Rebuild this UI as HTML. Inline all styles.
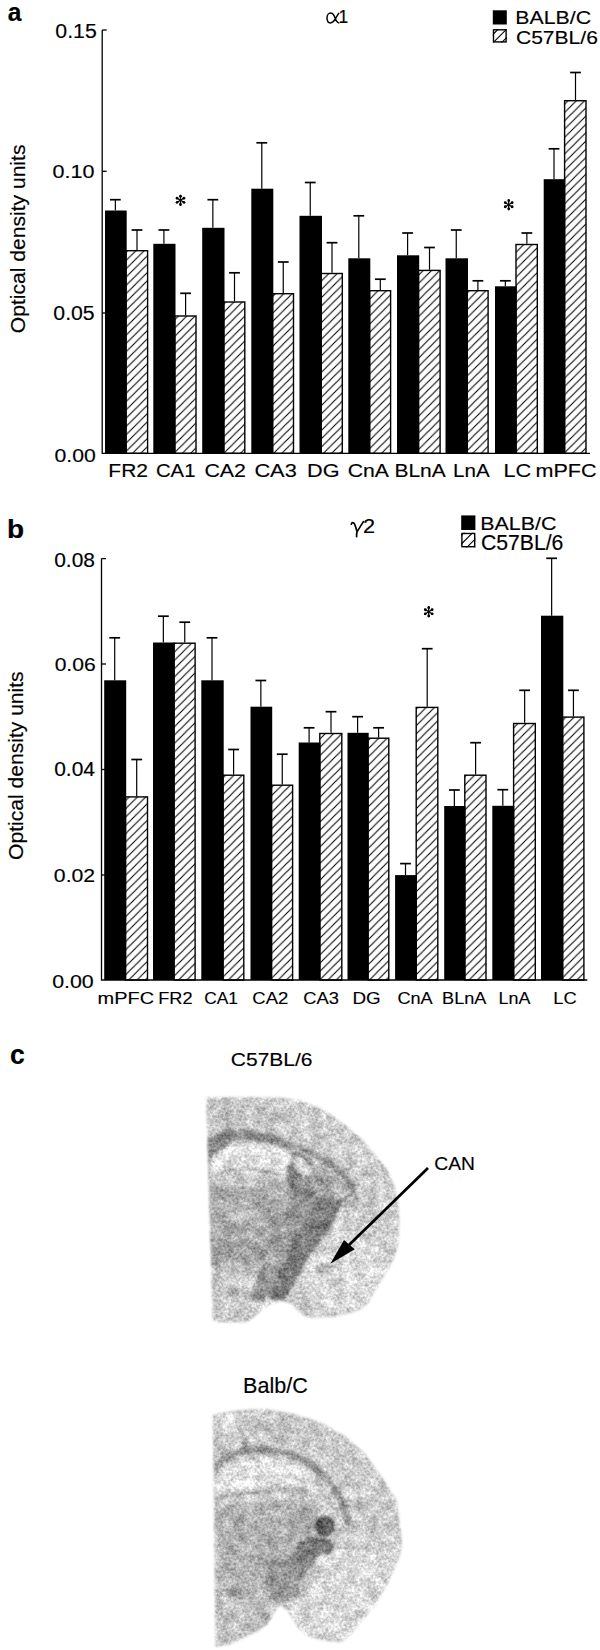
<!DOCTYPE html><html><head><meta charset="utf-8"><style>html,body{margin:0;padding:0;background:#fff}svg{display:block}</style></head><body>
<svg width="600" height="1650" viewBox="0 0 600 1650">
<defs><pattern id="h" patternUnits="userSpaceOnUse" width="8.3" height="8.3" patternTransform="translate(4.8,0)"><path d="M-1,9.3 L9.3,-1 M-1,1 L1,-1 M7.3,9.3 L9.3,7.3" stroke="#000" stroke-width="1.1"/></pattern></defs>
<rect width="600" height="1650" fill="#fff"/>
<g fill="#000" stroke="#000" stroke-width="0">
<path d="M102.2,30 V453.3 H590" fill="none" stroke="#000" stroke-width="1.3"/><path d="M102.2,30 H106.7" stroke="#000" stroke-width="1.3"/><path d="M102.2,171.3 H106.7" stroke="#000" stroke-width="1.3"/><path d="M102.2,313 H106.7" stroke="#000" stroke-width="1.3"/><path d="M115.35,210.5 V199.7" stroke="#000" stroke-width="1.2" fill="none"/><path d="M109.95,199.7 H120.75" stroke="#000" stroke-width="1.7" fill="none"/><path d="M137.00,250 V230" stroke="#000" stroke-width="1.2" fill="none"/><path d="M131.60,230 H142.40" stroke="#000" stroke-width="1.7" fill="none"/><rect x="126.00" y="250.70" width="21.60" height="202.60" fill="url(#h)" stroke="#000" stroke-width="1.4"/><rect x="105" y="210.5" width="21.70" height="242.80" fill="#000"/><path d="M163.90,243.8 V230" stroke="#000" stroke-width="1.2" fill="none"/><path d="M158.50,230 H169.30" stroke="#000" stroke-width="1.7" fill="none"/><path d="M185.60,315.3 V293.3" stroke="#000" stroke-width="1.2" fill="none"/><path d="M180.20,293.3 H191.00" stroke="#000" stroke-width="1.7" fill="none"/><rect x="174.80" y="316.00" width="21.20" height="137.30" fill="url(#h)" stroke="#000" stroke-width="1.4"/><rect x="153.3" y="243.8" width="22.20" height="209.50" fill="#000"/><path d="M212.85,227.8 V199.7" stroke="#000" stroke-width="1.2" fill="none"/><path d="M207.45,199.7 H218.25" stroke="#000" stroke-width="1.7" fill="none"/><path d="M234.50,301.3 V272.8" stroke="#000" stroke-width="1.2" fill="none"/><path d="M229.10,272.8 H239.90" stroke="#000" stroke-width="1.7" fill="none"/><rect x="223.80" y="302.00" width="21.00" height="151.30" fill="url(#h)" stroke="#000" stroke-width="1.4"/><rect x="202.2" y="227.8" width="22.30" height="225.50" fill="#000"/><path d="M261.80,188.7 V142.8" stroke="#000" stroke-width="1.2" fill="none"/><path d="M256.40,142.8 H267.20" stroke="#000" stroke-width="1.7" fill="none"/><path d="M283.25,293 V262" stroke="#000" stroke-width="1.2" fill="none"/><path d="M277.85,262 H288.65" stroke="#000" stroke-width="1.7" fill="none"/><rect x="272.60" y="293.70" width="20.90" height="159.60" fill="url(#h)" stroke="#000" stroke-width="1.4"/><rect x="251.3" y="188.7" width="22.00" height="264.60" fill="#000"/><path d="M310.25,215.8 V182.5" stroke="#000" stroke-width="1.2" fill="none"/><path d="M304.85,182.5 H315.65" stroke="#000" stroke-width="1.7" fill="none"/><path d="M332.00,272.8 V242.7" stroke="#000" stroke-width="1.2" fill="none"/><path d="M326.60,242.7 H337.40" stroke="#000" stroke-width="1.7" fill="none"/><rect x="321.30" y="273.50" width="21.00" height="179.80" fill="url(#h)" stroke="#000" stroke-width="1.4"/><rect x="299.5" y="215.8" width="22.50" height="237.50" fill="#000"/><path d="M358.80,258.3 V215.8" stroke="#000" stroke-width="1.2" fill="none"/><path d="M353.40,215.8 H364.20" stroke="#000" stroke-width="1.7" fill="none"/><path d="M380.30,290 V279.2" stroke="#000" stroke-width="1.2" fill="none"/><path d="M374.90,279.2 H385.70" stroke="#000" stroke-width="1.7" fill="none"/><rect x="369.60" y="290.70" width="21.00" height="162.60" fill="url(#h)" stroke="#000" stroke-width="1.4"/><rect x="348.3" y="258.3" width="22.00" height="195.00" fill="#000"/><path d="M407.60,255.3 V233" stroke="#000" stroke-width="1.2" fill="none"/><path d="M402.20,233 H413.00" stroke="#000" stroke-width="1.7" fill="none"/><path d="M429.50,269.7 V247.5" stroke="#000" stroke-width="1.2" fill="none"/><path d="M424.10,247.5 H434.90" stroke="#000" stroke-width="1.7" fill="none"/><rect x="418.50" y="270.40" width="21.60" height="182.90" fill="url(#h)" stroke="#000" stroke-width="1.4"/><rect x="397" y="255.3" width="22.20" height="198.00" fill="#000"/><path d="M456.25,258.3 V230" stroke="#000" stroke-width="1.2" fill="none"/><path d="M450.85,230 H461.65" stroke="#000" stroke-width="1.7" fill="none"/><path d="M477.90,290 V280.8" stroke="#000" stroke-width="1.2" fill="none"/><path d="M472.50,280.8 H483.30" stroke="#000" stroke-width="1.7" fill="none"/><rect x="467.30" y="290.70" width="20.80" height="162.60" fill="url(#h)" stroke="#000" stroke-width="1.4"/><rect x="445.5" y="258.3" width="22.50" height="195.00" fill="#000"/><path d="M505.35,286.3 V280.8" stroke="#000" stroke-width="1.2" fill="none"/><path d="M499.95,280.8 H510.75" stroke="#000" stroke-width="1.7" fill="none"/><path d="M526.85,243.8 V233" stroke="#000" stroke-width="1.2" fill="none"/><path d="M521.45,233 H532.25" stroke="#000" stroke-width="1.7" fill="none"/><rect x="516.00" y="244.50" width="21.30" height="208.80" fill="url(#h)" stroke="#000" stroke-width="1.4"/><rect x="495" y="286.3" width="21.70" height="167.00" fill="#000"/><path d="M554.00,179.2 V148.8" stroke="#000" stroke-width="1.2" fill="none"/><path d="M548.60,148.8 H559.40" stroke="#000" stroke-width="1.7" fill="none"/><path d="M575.50,100 V72.5" stroke="#000" stroke-width="1.2" fill="none"/><path d="M570.10,72.5 H580.90" stroke="#000" stroke-width="1.7" fill="none"/><rect x="564.60" y="100.70" width="21.40" height="352.60" fill="url(#h)" stroke="#000" stroke-width="1.4"/><rect x="543.7" y="179.2" width="21.60" height="274.10" fill="#000"/>
<path d="M101.5,558.6 V980 H587.3" fill="none" stroke="#000" stroke-width="1.3"/><path d="M101.5,558.6 H106.0" stroke="#000" stroke-width="1.3"/><path d="M101.5,664 H106.0" stroke="#000" stroke-width="1.3"/><path d="M101.5,769.5 H106.0" stroke="#000" stroke-width="1.3"/><path d="M101.5,875 H106.0" stroke="#000" stroke-width="1.3"/><path d="M114.70,680.3 V637.8" stroke="#000" stroke-width="1.2" fill="none"/><path d="M109.30,637.8 H120.10" stroke="#000" stroke-width="1.7" fill="none"/><path d="M136.70,796.2 V759.5" stroke="#000" stroke-width="1.2" fill="none"/><path d="M131.30,759.5 H142.10" stroke="#000" stroke-width="1.7" fill="none"/><rect x="125.50" y="796.90" width="22.00" height="183.10" fill="url(#h)" stroke="#000" stroke-width="1.4"/><rect x="104.2" y="680.3" width="22.00" height="299.70" fill="#000"/><path d="M163.35,642.5 V616.2" stroke="#000" stroke-width="1.2" fill="none"/><path d="M157.95,616.2 H168.75" stroke="#000" stroke-width="1.7" fill="none"/><path d="M184.75,642.5 V622.2" stroke="#000" stroke-width="1.2" fill="none"/><path d="M179.35,622.2 H190.15" stroke="#000" stroke-width="1.7" fill="none"/><rect x="174.00" y="643.20" width="21.10" height="336.80" fill="url(#h)" stroke="#000" stroke-width="1.4"/><rect x="153" y="642.5" width="21.70" height="337.50" fill="#000"/><path d="M212.00,680.3 V637.8" stroke="#000" stroke-width="1.2" fill="none"/><path d="M206.60,637.8 H217.40" stroke="#000" stroke-width="1.7" fill="none"/><path d="M233.60,774.5 V749.5" stroke="#000" stroke-width="1.2" fill="none"/><path d="M228.20,749.5 H239.00" stroke="#000" stroke-width="1.7" fill="none"/><rect x="223.00" y="775.20" width="20.80" height="204.80" fill="url(#h)" stroke="#000" stroke-width="1.4"/><rect x="201.3" y="680.3" width="22.40" height="299.70" fill="#000"/><path d="M260.85,706.7 V680.5" stroke="#000" stroke-width="1.2" fill="none"/><path d="M255.45,680.5 H266.25" stroke="#000" stroke-width="1.7" fill="none"/><path d="M282.25,784.5 V754.2" stroke="#000" stroke-width="1.2" fill="none"/><path d="M276.85,754.2 H287.65" stroke="#000" stroke-width="1.7" fill="none"/><rect x="271.50" y="785.20" width="21.10" height="194.80" fill="url(#h)" stroke="#000" stroke-width="1.4"/><rect x="250.5" y="706.7" width="21.70" height="273.30" fill="#000"/><path d="M309.10,742.5 V727.8" stroke="#000" stroke-width="1.2" fill="none"/><path d="M303.70,727.8 H314.50" stroke="#000" stroke-width="1.7" fill="none"/><path d="M331.00,732.8 V711.7" stroke="#000" stroke-width="1.2" fill="none"/><path d="M325.60,711.7 H336.40" stroke="#000" stroke-width="1.7" fill="none"/><rect x="319.80" y="733.50" width="22.00" height="246.50" fill="url(#h)" stroke="#000" stroke-width="1.4"/><rect x="298.7" y="742.5" width="21.80" height="237.50" fill="#000"/><path d="M357.60,732.8 V716.7" stroke="#000" stroke-width="1.2" fill="none"/><path d="M352.20,716.7 H363.00" stroke="#000" stroke-width="1.7" fill="none"/><path d="M378.60,737.5 V727.8" stroke="#000" stroke-width="1.2" fill="none"/><path d="M373.20,727.8 H384.00" stroke="#000" stroke-width="1.7" fill="none"/><rect x="368.00" y="738.20" width="20.80" height="241.80" fill="url(#h)" stroke="#000" stroke-width="1.4"/><rect x="347.5" y="732.8" width="21.20" height="247.20" fill="#000"/><path d="M405.50,875.1 V863.6" stroke="#000" stroke-width="1.2" fill="none"/><path d="M400.10,863.6 H410.90" stroke="#000" stroke-width="1.7" fill="none"/><path d="M427.20,706.7 V648.7" stroke="#000" stroke-width="1.2" fill="none"/><path d="M421.80,648.7 H432.60" stroke="#000" stroke-width="1.7" fill="none"/><rect x="416.20" y="707.40" width="21.60" height="272.60" fill="url(#h)" stroke="#000" stroke-width="1.4"/><rect x="395.1" y="875.1" width="21.80" height="104.90" fill="#000"/><path d="M454.35,806 V790" stroke="#000" stroke-width="1.2" fill="none"/><path d="M448.95,790 H459.75" stroke="#000" stroke-width="1.7" fill="none"/><path d="M475.60,774.5 V742.7" stroke="#000" stroke-width="1.2" fill="none"/><path d="M470.20,742.7 H481.00" stroke="#000" stroke-width="1.7" fill="none"/><rect x="464.80" y="775.20" width="21.20" height="204.80" fill="url(#h)" stroke="#000" stroke-width="1.4"/><rect x="444.2" y="806" width="21.30" height="174.00" fill="#000"/><path d="M502.80,805.8 V789.7" stroke="#000" stroke-width="1.2" fill="none"/><path d="M497.40,789.7 H508.20" stroke="#000" stroke-width="1.7" fill="none"/><path d="M524.65,722.8 V690.3" stroke="#000" stroke-width="1.2" fill="none"/><path d="M519.25,690.3 H530.05" stroke="#000" stroke-width="1.7" fill="none"/><rect x="513.60" y="723.50" width="21.70" height="256.50" fill="url(#h)" stroke="#000" stroke-width="1.4"/><rect x="492.3" y="805.8" width="22.00" height="174.20" fill="#000"/><path d="M551.65,615.7 V558.3" stroke="#000" stroke-width="1.2" fill="none"/><path d="M546.25,558.3 H557.05" stroke="#000" stroke-width="1.7" fill="none"/><path d="M573.45,716.4 V690.3" stroke="#000" stroke-width="1.2" fill="none"/><path d="M568.05,690.3 H578.85" stroke="#000" stroke-width="1.7" fill="none"/><rect x="562.60" y="717.10" width="21.30" height="262.90" fill="url(#h)" stroke="#000" stroke-width="1.4"/><rect x="541" y="615.7" width="22.30" height="364.30" fill="#000"/>
<line x1="180.5" y1="200.3" x2="180.50" y2="194.80" stroke="#000" stroke-width="1.3"/><circle cx="180.50" cy="196.20" r="1.4"/><line x1="180.5" y1="200.3" x2="175.98" y2="197.55" stroke="#000" stroke-width="1.3"/><circle cx="177.13" cy="198.25" r="1.4"/><line x1="180.5" y1="200.3" x2="175.98" y2="203.05" stroke="#000" stroke-width="1.3"/><circle cx="177.13" cy="202.35" r="1.4"/><line x1="180.5" y1="200.3" x2="180.50" y2="205.80" stroke="#000" stroke-width="1.3"/><circle cx="180.50" cy="204.40" r="1.4"/><line x1="180.5" y1="200.3" x2="185.02" y2="203.05" stroke="#000" stroke-width="1.3"/><circle cx="183.87" cy="202.35" r="1.4"/><line x1="180.5" y1="200.3" x2="185.02" y2="197.55" stroke="#000" stroke-width="1.3"/><circle cx="183.87" cy="198.25" r="1.4"/>
<line x1="508.7" y1="204.7" x2="508.70" y2="199.20" stroke="#000" stroke-width="1.3"/><circle cx="508.70" cy="200.60" r="1.4"/><line x1="508.7" y1="204.7" x2="504.18" y2="201.95" stroke="#000" stroke-width="1.3"/><circle cx="505.33" cy="202.65" r="1.4"/><line x1="508.7" y1="204.7" x2="504.18" y2="207.45" stroke="#000" stroke-width="1.3"/><circle cx="505.33" cy="206.75" r="1.4"/><line x1="508.7" y1="204.7" x2="508.70" y2="210.20" stroke="#000" stroke-width="1.3"/><circle cx="508.70" cy="208.80" r="1.4"/><line x1="508.7" y1="204.7" x2="513.22" y2="207.45" stroke="#000" stroke-width="1.3"/><circle cx="512.07" cy="206.75" r="1.4"/><line x1="508.7" y1="204.7" x2="513.22" y2="201.95" stroke="#000" stroke-width="1.3"/><circle cx="512.07" cy="202.65" r="1.4"/>
<line x1="428.7" y1="611.8" x2="428.70" y2="606.30" stroke="#000" stroke-width="1.3"/><circle cx="428.70" cy="607.70" r="1.4"/><line x1="428.7" y1="611.8" x2="424.18" y2="609.05" stroke="#000" stroke-width="1.3"/><circle cx="425.33" cy="609.75" r="1.4"/><line x1="428.7" y1="611.8" x2="424.18" y2="614.55" stroke="#000" stroke-width="1.3"/><circle cx="425.33" cy="613.85" r="1.4"/><line x1="428.7" y1="611.8" x2="428.70" y2="617.30" stroke="#000" stroke-width="1.3"/><circle cx="428.70" cy="615.90" r="1.4"/><line x1="428.7" y1="611.8" x2="433.22" y2="614.55" stroke="#000" stroke-width="1.3"/><circle cx="432.07" cy="613.85" r="1.4"/><line x1="428.7" y1="611.8" x2="433.22" y2="609.05" stroke="#000" stroke-width="1.3"/><circle cx="432.07" cy="609.75" r="1.4"/>
<rect x="492.8" y="10.3" width="14.0" height="14.2" fill="#000"/><clipPath id="lg1"><rect x="492.8" y="29.1" width="14.0" height="13.5"/></clipPath><path clip-path="url(#lg1)" d="M440.80,44.60 L458.30,27.10 M449.20,44.60 L466.70,27.10 M457.60,44.60 L475.10,27.10 M466.00,44.60 L483.50,27.10 M474.40,44.60 L491.90,27.10 M482.80,44.60 L500.30,27.10 M491.20,44.60 L508.70,27.10 M499.60,44.60 L517.10,27.10 M508.00,44.60 L525.50,27.10" stroke="#000" stroke-width="1.1" fill="none"/><rect x="493.5" y="29.8" width="12.6" height="12.1" fill="none" stroke="#000" stroke-width="1.4"/>
<rect x="461.2" y="515.4" width="14.199999999999989" height="14.600000000000023" fill="#000"/><clipPath id="lg2"><rect x="461.2" y="532.8" width="14.199999999999989" height="14.600000000000023"/></clipPath><path clip-path="url(#lg2)" d="M403.20,549.40 L421.80,530.80 M412.00,549.40 L430.60,530.80 M420.80,549.40 L439.40,530.80 M429.60,549.40 L448.20,530.80 M438.40,549.40 L457.00,530.80 M447.20,549.40 L465.80,530.80 M456.00,549.40 L474.60,530.80 M464.80,549.40 L483.40,530.80 M473.60,549.40 L492.20,530.80" stroke="#000" stroke-width="1.1" fill="none"/><rect x="461.9" y="533.5" width="12.799999999999988" height="13.200000000000022" fill="none" stroke="#000" stroke-width="1.4"/>
<text font-family="Liberation Sans" font-weight="bold" font-size="100" stroke-width="0.8" transform="matrix(0.24528 0 0 0.25926 7.76 21.00)">a</text>
<text font-family="Liberation Sans" font-size="100" stroke-width="0.8" transform="matrix(0.21290 0 0 0.20000 55.35 38.00)">0.15</text>
<text font-family="Liberation Sans" font-size="100" stroke-width="0.8" transform="matrix(0.21604 0 0 0.19000 52.44 177.50)">0.10</text>
<text font-family="Liberation Sans" font-size="100" stroke-width="0.8" transform="matrix(0.21237 0 0 0.20286 53.35 320.00)">0.05</text>
<text font-family="Liberation Sans" font-size="100" stroke-width="0.8" transform="matrix(0.21230 0 0 0.19143 54.45 461.70)">0.00</text>
<path d="M339,12.9 C337.6,15 336.4,17 335.2,19.2 C333.8,21.6 332.2,22.9 330.4,22.9 C328.1,22.9 327,20.8 327,18 C327,15.2 328.6,13.1 330.6,13.1 C332.8,13.1 334,15.2 335.1,18 C336.2,20.9 337.2,22.9 339.3,22.9" fill="none" stroke="#000" stroke-width="1.5"/>
<text font-family="Liberation Sans" font-size="100" stroke-width="0.8" transform="matrix(0.17442 0 0 0.18406 338.60 23.00)">1</text>
<text font-family="Liberation Sans" font-size="100" stroke-width="0.8" transform="matrix(0.21283 0 0 0.18630 515.30 23.60)">BALB/C</text>
<text font-family="Liberation Sans" font-size="100" stroke-width="0.8" transform="matrix(0.21053 0 0 0.19178 515.95 43.60)">C57BL/6</text>
<text font-family="Liberation Sans" font-size="100" stroke-width="0.8" transform="matrix(0.21023 0 0 0.18357 108.32 476.60)">FR2</text>
<text font-family="Liberation Sans" font-size="100" stroke-width="0.8" transform="matrix(0.20270 0 0 0.18357 155.99 476.60)">CA1</text>
<text font-family="Liberation Sans" font-size="100" stroke-width="0.8" transform="matrix(0.21351 0 0 0.18357 204.43 476.60)">CA2</text>
<text font-family="Liberation Sans" font-size="100" stroke-width="0.8" transform="matrix(0.21757 0 0 0.18357 254.41 476.60)">CA3</text>
<text font-family="Liberation Sans" font-size="100" stroke-width="0.8" transform="matrix(0.21667 0 0 0.18357 307.02 476.60)">DG</text>
<text font-family="Liberation Sans" font-size="100" stroke-width="0.8" transform="matrix(0.21164 0 0 0.18357 347.69 476.60)">CnA</text>
<text font-family="Liberation Sans" font-size="100" stroke-width="0.8" transform="matrix(0.20996 0 0 0.18623 394.42 476.60)">BLnA</text>
<text font-family="Liberation Sans" font-size="100" stroke-width="0.8" transform="matrix(0.20588 0 0 0.18623 453.10 476.60)">LnA</text>
<text font-family="Liberation Sans" font-size="100" stroke-width="0.8" transform="matrix(0.21609 0 0 0.18357 503.42 476.60)">LC</text>
<text font-family="Liberation Sans" font-size="100" stroke-width="0.8" transform="matrix(0.21544 0 0 0.18357 535.49 476.60)">mPFC</text>
<text font-family="Liberation Sans" font-size="100" stroke-width="0.8" transform="matrix(0 -0.21084 0.20745 0 24.94 333.15)">Optical density units</text>
<text font-family="Liberation Sans" font-weight="bold" font-size="100" stroke-width="0.8" transform="matrix(0.28000 0 0 0.26027 7.04 538.40)">b</text>
<text font-family="Liberation Sans" font-size="100" stroke-width="0.8" transform="matrix(0.20968 0 0 0.19429 54.16 566.60)">0.08</text>
<text font-family="Liberation Sans" font-size="100" stroke-width="0.8" transform="matrix(0.21075 0 0 0.19000 54.66 671.30)">0.06</text>
<text font-family="Liberation Sans" font-size="100" stroke-width="0.8" transform="matrix(0.21011 0 0 0.20143 54.16 775.80)">0.04</text>
<text font-family="Liberation Sans" font-size="100" stroke-width="0.8" transform="matrix(0.21237 0 0 0.17857 53.85 881.70)">0.02</text>
<text font-family="Liberation Sans" font-size="100" stroke-width="0.8" transform="matrix(0.21390 0 0 0.19000 52.14 988.00)">0.00</text>
<path d="M351.3,524.2 C351.8,522.2 353.6,522 354.6,524.2 C355.6,526.5 356.3,529 357.1,531.8 M363.4,521.6 C361.5,524.8 359,528.5 357.1,531.8 C356.6,533.5 356.4,535 356.6,536.6" fill="none" stroke="#000" stroke-width="1.7" stroke-linecap="round"/>
<text font-family="Liberation Sans" font-size="100" stroke-width="0.8" transform="matrix(0.21739 0 0 0.20000 362.91 532.50)">2</text>
<text font-family="Liberation Sans" font-size="100" stroke-width="0.8" transform="matrix(0.21429 0 0 0.17534 480.29 529.60)">BALB/C</text>
<text font-family="Liberation Sans" font-size="100" stroke-width="0.8" transform="matrix(0.21184 0 0 0.21781 480.94 549.70)">C57BL/6</text>
<text font-family="Liberation Sans" font-size="100" stroke-width="0.8" transform="matrix(0.19963 0 0 0.17000 97.60 1004.40)">mPFC</text>
<text font-family="Liberation Sans" font-size="100" stroke-width="0.8" transform="matrix(0.18182 0 0 0.17000 158.25 1004.40)">FR2</text>
<text font-family="Liberation Sans" font-size="100" stroke-width="0.8" transform="matrix(0.17405 0 0 0.17000 204.13 1004.40)">CA1</text>
<text font-family="Liberation Sans" font-size="100" stroke-width="0.8" transform="matrix(0.18541 0 0 0.17000 252.37 1004.40)">CA2</text>
<text font-family="Liberation Sans" font-size="100" stroke-width="0.8" transform="matrix(0.18324 0 0 0.17000 303.28 1004.40)">CA3</text>
<text font-family="Liberation Sans" font-size="100" stroke-width="0.8" transform="matrix(0.18815 0 0 0.17000 352.49 1004.40)">DG</text>
<text font-family="Liberation Sans" font-size="100" stroke-width="0.8" transform="matrix(0.18148 0 0 0.17000 397.39 1004.40)">CnA</text>
<text font-family="Liberation Sans" font-size="100" stroke-width="0.8" transform="matrix(0.18136 0 0 0.17246 442.05 1004.40)">BLnA</text>
<text font-family="Liberation Sans" font-size="100" stroke-width="0.8" transform="matrix(0.17941 0 0 0.17246 498.56 1004.40)">LnA</text>
<text font-family="Liberation Sans" font-size="100" stroke-width="0.8" transform="matrix(0.18348 0 0 0.17000 553.23 1004.40)">LC</text>
<text font-family="Liberation Sans" font-size="100" stroke-width="0.8" transform="matrix(0 -0.21084 0.20745 0 22.84 859.95)">Optical density units</text>
<text font-family="Liberation Sans" font-weight="bold" font-size="100" stroke-width="0.8" transform="matrix(0.26531 0 0 0.26852 9.94 1064.00)">c</text>
<text font-family="Liberation Sans" font-size="100" stroke-width="0.8" transform="matrix(0.21000 0 0 0.18082 230.85 1065.70)">C57BL/6</text>
<text font-family="Liberation Sans" font-size="100" stroke-width="0.8" transform="matrix(0.19242 0 0 0.19000 434.24 1170.00)">CAN</text>
<text font-family="Liberation Sans" font-size="100" stroke-width="0.8" transform="matrix(0.21562 0 0 0.22055 243.08 1393.00)">Balb/C</text>
</g>
<defs>
<mask id="b1" maskUnits="userSpaceOnUse" x="150" y="1050" width="300" height="600"><path d="M206,1097.5 L240,1097 L280,1097.6 L301.7,1100.8 L323.3,1109.5 L345,1124.7 L362.3,1139.8 L375.3,1155 L386.2,1168 L392.7,1181 L398,1200 L399.3,1220 L398.7,1240 L395.3,1254.7 L390,1266.7 L383.3,1277.3 L375.3,1290.7 L368.7,1302.7 L360.7,1309.3 L350,1313.3 L336.7,1316.7 L312,1317.7 L302.7,1315.3 L298,1310.7 L291,1303.7 L280.5,1300.9 L277,1302.5 L263,1308.3 L253.7,1317.7 L246.7,1322.3 L218.7,1322.3 L212.8,1320 L210.5,1250 Z" fill="#fff" filter="url(#edge)"/></mask>
<mask id="b2" maskUnits="userSpaceOnUse" x="150" y="1050" width="300" height="600"><path d="M212.8,1415.2 L222,1412.6 L244,1409.7 L266,1409 L291.7,1413.3 L321,1422.5 L346.7,1437.2 L365,1453.7 L383.3,1479.3 L396.7,1500 L399.3,1520 L401.3,1536 L402,1546.7 L399.3,1557.3 L394,1570.7 L388.7,1581.3 L383.3,1592 L375.3,1605.3 L366,1616 L356.7,1626.7 L350,1636 L340.7,1642.7 L321.7,1640 L307.7,1636.5 L298.3,1628.3 L292.5,1619 L286.7,1609.7 L279.7,1605 L273.8,1614.3 L268,1623.7 L258.7,1630.7 L244.7,1637.7 L228.3,1644.7 L215.5,1647 L214.5,1560 Z" fill="#fff" filter="url(#edge)"/></mask>
<filter id="edge" x="-10%" y="-10%" width="120%" height="120%"><feGaussianBlur stdDeviation="0.8"/></filter>
<filter id="bl4" x="-20%" y="-20%" width="140%" height="140%"><feGaussianBlur stdDeviation="4"/></filter>
<filter id="bl2" x="-20%" y="-20%" width="140%" height="140%"><feGaussianBlur stdDeviation="1.8"/></filter>
<filter id="nz" x="0" y="0" width="100%" height="100%" color-interpolation-filters="sRGB">
<feTurbulence type="fractalNoise" baseFrequency="0.38" numOctaves="3" seed="7" result="n0"/><feGaussianBlur in="n0" stdDeviation="0.5" result="n"/>
<feColorMatrix in="n" type="matrix" values="1 0 0 0 0  1 0 0 0 0  1 0 0 0 0  0 0 0 0 1" result="g"/>
<feTurbulence type="fractalNoise" baseFrequency="0.09" numOctaves="2" seed="11" result="m0"/>
<feColorMatrix in="m0" type="matrix" values="1 0 0 0 0  1 0 0 0 0  1 0 0 0 0  0 0 0 0 1" result="m"/>
<feComposite in="SourceGraphic" in2="g" operator="arithmetic" k1="0" k2="1" k3="0.45" k4="-0.225" result="s1"/>
<feComposite in="s1" in2="m" operator="arithmetic" k1="0" k2="1" k3="0.35" k4="-0.175"/>
</filter>
</defs>
<g mask="url(#b1)"><g filter="url(#nz)">
<rect x="200" y="1090" width="210" height="240" fill="#cdcdcd"/>
<g filter="url(#bl4)">
<ellipse cx="345" cy="1272" rx="45" ry="40" fill="#dadada"/>
<path d="M207,1183 L290,1183 L300,1200 L300,1240 L285,1265 L207,1268 Z" fill="#ababab"/>
<path d="M207,1272 L262,1272 L262,1300 L250,1322 L207,1322 Z" fill="#c9c9c9"/>
<ellipse cx="243" cy="1213" rx="16" ry="10" fill="#bebebe"/>
<path d="M207,1100 L290,1100 L290,1128 L207,1140 Z" fill="#c5c5c5"/>
</g>
<g filter="url(#bl2)">
<path d="M207,1154 C212,1144 220,1136 230,1134 C250,1134 272,1138 290,1145" fill="none" stroke="#8d8d8d" stroke-width="10"/><path d="M288,1144 C310,1151 330,1161 345,1176 C352,1185 356,1194 357,1202" fill="none" stroke="#9a9a9a" stroke-width="6"/>
<path d="M207,1140 L222,1133 L232,1140 L218,1158 L207,1162 Z" fill="#858585"/>
<path d="M286,1156 L298,1152 L312,1160 L318,1180 L325,1200 L332,1212 L310,1212 L296,1200 L287,1182 Z" fill="#868686"/>
<path d="M312,1163 L333,1170 L350,1189 L333,1202 L316,1196 L310,1180 Z" fill="#acacac"/>
<path d="M302,1150 C315,1156 330,1165 342,1176 C348,1182 353,1187 355,1191 C348,1197 338,1202 328,1206" fill="none" stroke="#838383" stroke-width="3"/>
<ellipse cx="320" cy="1180" rx="4" ry="5" fill="#9a9a9a"/>
<ellipse cx="335" cy="1190" rx="4" ry="3" fill="#bcbcbc"/>
<path d="M292,1195 L322,1198 L300,1240 L278,1280 L262,1302 L250,1300 L258,1275 L272,1240 Z" fill="#999999"/>
<path d="M320,1196 L343,1200 L332,1226 L309,1256 L293,1286 L283,1301 L268,1299 L276,1280 L290,1250 L304,1221 Z" fill="#7d7d7d"/>
<path d="M212,1240 C235,1236 260,1240 284,1255 L280,1266 C255,1260 235,1258 212,1262 Z" fill="#a0a0a0"/>
<ellipse cx="225" cy="1195" rx="8" ry="5" fill="#9c9c9c"/>
<ellipse cx="266" cy="1205" rx="9" ry="7" fill="#9e9e9e"/>
<ellipse cx="280" cy="1225" rx="8" ry="10" fill="#9a9a9a"/>
<ellipse cx="232" cy="1290" rx="6" ry="5" fill="#b0b0b0"/>
<path d="M211,1160 C214,1151 226,1146 248,1144 C270,1143 286,1147 291,1154 C294,1161 289,1168 275,1170 C260,1170 248,1166 235,1167 C224,1168 216,1172 212,1175 Z" fill="#e3e3e3"/>
<path d="M212,1176 C224,1171 236,1169 248,1169 C260,1169 270,1171 280,1174" fill="none" stroke="#9a9a9a" stroke-width="2.6"/>
<path d="M214,1180 C228,1178 245,1179 258,1182 L255,1187 C240,1185 226,1185 216,1187 Z" fill="#d2d2d2"/>
<ellipse cx="302" cy="1166" rx="6" ry="11.5" transform="rotate(-42 302 1166)" fill="#dcdcdc"/>
<ellipse cx="325" cy="1269" rx="10" ry="6" fill="#b2b2b2"/>
</g>
</g></g>
<g mask="url(#b2)"><g filter="url(#nz)">
<rect x="200" y="1400" width="210" height="250" fill="#cccccc"/>
<g filter="url(#bl4)">
<ellipse cx="355" cy="1598" rx="48" ry="45" fill="#d9d9d9"/>
</g><g filter="url(#bl2)"><path d="M318,1557 L350,1550 L398,1552 L392,1600 L352,1642 L300,1642 L287,1607 L300,1580 Z" fill="#dadada"/></g><g filter="url(#bl4)">
<path d="M214,1505 L300,1500 L318,1530 L315,1570 L300,1595 L270,1600 L214,1590 Z" fill="#b2b2b2"/>
<path d="M214,1595 L268,1600 L272,1620 L250,1640 L214,1648 Z" fill="#c2c2c2"/>
<rect x="205" y="1412" width="130" height="30" fill="#c6c6c6"/>
</g>
<g filter="url(#bl2)">
<path d="M214,1470 C222,1458 235,1451 250,1450 C270,1449 292,1453 308,1463 C324,1473 336,1490 344,1505 C347,1512 348,1518 348,1524" fill="none" stroke="#959595" stroke-width="7"/>
<path d="M244,1438 L247,1438 L247,1453 L242,1453 Z" fill="#8a8a8a"/>
<path d="M216,1476 C222,1466 240,1460 265,1459 C288,1459 302,1465 310,1475 C315,1482 317,1488 316,1494 L308,1490 C300,1484 290,1482 270,1485 C250,1488 232,1492 216,1496 Z" fill="#e4e4e4"/>
<path d="M222,1483 C235,1478 255,1475 278,1475 C290,1475 298,1478 304,1482" fill="none" stroke="#bcbcbc" stroke-width="2"/>
<path d="M218,1498 C240,1494 265,1491 290,1489 C298,1488 304,1490 310,1494" fill="none" stroke="#a0a0a0" stroke-width="2.2"/>
<path d="M222,1502 C242,1499 265,1497 288,1496" fill="none" stroke="#d6d6d6" stroke-width="4"/>
<ellipse cx="325" cy="1526" rx="10" ry="10.5" fill="#565656"/>
<path d="M306,1538 C318,1536 328,1538 335,1545 L330,1554 C320,1550 312,1550 304,1552 Z" fill="#707070"/>
<path d="M300,1540 L330,1545 L316,1558 L300,1582 L285,1603 L274,1600 L276,1582 L288,1560 Z" fill="#7e7e7e"/>
<path d="M265,1560 L300,1560 L298,1595 L282,1604 L268,1598 Z" fill="#989898"/>
<path d="M300,1505 L318,1512 L312,1530 L300,1525 Z" fill="#a0a0a0"/>
<ellipse cx="232" cy="1592" rx="5" ry="5" fill="#9a9a9a"/>
<ellipse cx="265" cy="1617" rx="5" ry="5" fill="#a0a0a0"/>
<ellipse cx="240" cy="1525" rx="8" ry="6" fill="#a6a6a6"/>
<ellipse cx="285" cy="1520" rx="8" ry="7" fill="#a6a6a6"/>
<path d="M220,1414 L234,1414 L236,1432 L224,1434 Z" fill="#e8e8e8"/>
<ellipse cx="222" cy="1452" rx="7" ry="5" fill="#b4b4b4"/>
</g>
</g></g>
<path d="M428,1168 L348,1246" stroke="#000" stroke-width="2.7"/>
<path d="M330.4,1263.8 L344,1240 L354.7,1249.3 Z" fill="#000"/>

</svg></body></html>
